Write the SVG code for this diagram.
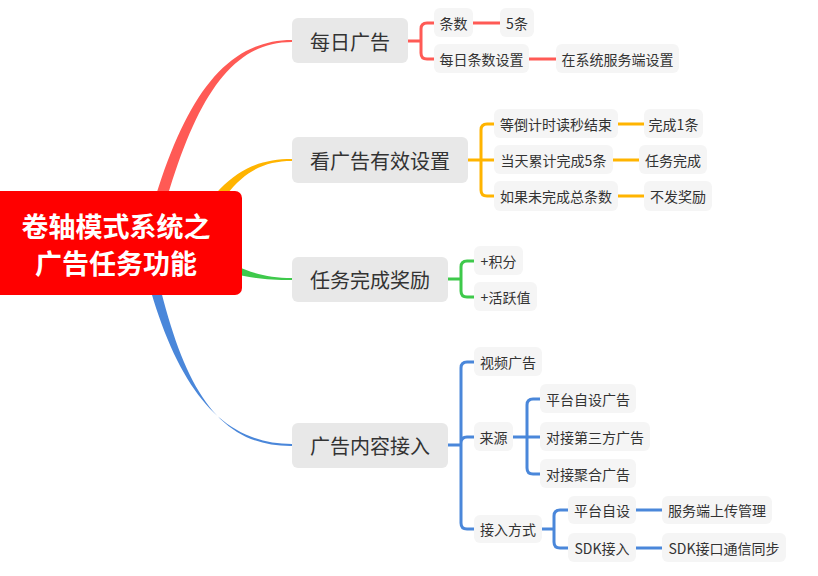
<svg xmlns="http://www.w3.org/2000/svg" width="818" height="576" viewBox="0 0 818 576">
<style>
text{font-family:"Noto Sans CJK SC","Noto Sans",sans-serif;dominant-baseline:central;text-anchor:middle;fill:#333}
.main rect{fill:#e8e8e8}
.main text{font-size:20px}
.sub rect{fill:#f5f5f5}
.sub text{font-size:14px}
.ln{fill:none;stroke-width:3;stroke-linejoin:round}
.r{stroke:#ff5a55}.o{stroke:#ffb400}.g{stroke:#3ec94b}.b{stroke:#4a87da}
</style>
<g id="connectors">
<path d="M138,262 C172,120 214,40 292,40 L292,42 C220,42 184,122 150,262 Z" fill="#ff5a55"/>
<path d="M185,238 C220,176 250,159 292,159 L292,161 C254,161 228,180 197,245 Z" fill="#ffb400"/>
<path d="M200,248 C238,268 258,278 292,278 L292,280 C256,280 236,276 198,262 Z" fill="#3ec94b"/>
<path d="M136,232 C166,372 212,444 292,444 L292,446 C210,447 176,374 148,232 Z" fill="#4a87da"/>
<path class="ln r" d="M408,41 H421 M434,23 H427 Q421,23 421,29 V53 Q421,59 427,59 H434 M473,23 H500 M529,59 H556"/>
<path class="ln o" d="M468,160 H481 M494,124 H487 Q481,124 481,130 V190 Q481,196 487,196 H494 M481,160 H494 M618,124 H644 M613,160 H639 M618,196 H644"/>
<path class="ln g" d="M448,279 H461 M474,261 H467 Q461,261 461,267 V291 Q461,297 467,297 H474"/>
<path class="ln b" d="M448,445 H461 M474,362 H467 Q461,362 461,368 V523 Q461,529 467,529 H474 M461,443 Q461,437 467,437 H474 M513,437 H540 M540,399 H533 Q527,399 527,405 V468 Q527,474 533,474 H540 M527,437 H540 M542,529 H554 M568,510 H560 Q554,510 554,516 V542 Q554,548 560,548 H568 M636,510 H662 M636,548 H662"/>
</g>
<g id="root">
<rect x="-6" y="191" width="248" height="104" rx="7" fill="#ff0000"/>
<text x="116" y="225" style="font-size:27px;font-weight:bold;fill:#fff">卷轴模式系统之</text>
<text x="116" y="262" style="font-size:27px;font-weight:bold;fill:#fff">广告任务功能</text>
</g>
<g id="n1" class="main"><rect x="292" y="18" width="116" height="45" rx="6"/><text x="350" y="41">每日广告</text></g>
<g id="n2" class="main"><rect x="292" y="137" width="176" height="46" rx="6"/><text x="380" y="160">看广告有效设置</text></g>
<g id="n3" class="main"><rect x="292" y="257" width="156" height="45" rx="6"/><text x="370" y="279">任务完成奖励</text></g>
<g id="n4" class="main"><rect x="292" y="423" width="156" height="45" rx="6"/><text x="370" y="445">广告内容接入</text></g>
<g id="n1a" class="sub"><rect x="434" y="8" width="39" height="29" rx="6"/><text x="453.5" y="22.5">条数</text></g>
<g id="n1a1" class="sub"><rect x="500" y="8" width="34" height="29" rx="6"/><text x="517" y="22.5">5条</text></g>
<g id="n1b" class="sub"><rect x="434" y="44" width="95" height="29" rx="6"/><text x="481.5" y="58.5">每日条数设置</text></g>
<g id="n1b1" class="sub"><rect x="556" y="44" width="123" height="29" rx="6"/><text x="617.5" y="58.5">在系统服务端设置</text></g>
<g id="n2a" class="sub"><rect x="494" y="109" width="124" height="29" rx="6"/><text x="556" y="123.5">等倒计时读秒结束</text></g>
<g id="n2a1" class="sub"><rect x="644" y="109" width="59" height="29" rx="6"/><text x="673.5" y="123.5">完成1条</text></g>
<g id="n2b" class="sub"><rect x="494" y="145" width="119" height="29" rx="6"/><text x="553.5" y="159.5">当天累计完成5条</text></g>
<g id="n2b1" class="sub"><rect x="639" y="145" width="68" height="29" rx="6"/><text x="673" y="159.5">任务完成</text></g>
<g id="n2c" class="sub"><rect x="494" y="181" width="124" height="30" rx="6"/><text x="556" y="196">如果未完成总条数</text></g>
<g id="n2c1" class="sub"><rect x="644" y="181" width="68" height="30" rx="6"/><text x="678" y="196">不发奖励</text></g>
<g id="n3a" class="sub"><rect x="474" y="246" width="49" height="29" rx="6"/><text x="498.5" y="260.5">+积分</text></g>
<g id="n3b" class="sub"><rect x="474" y="282" width="63" height="29" rx="6"/><text x="505.5" y="296.5">+活跃值</text></g>
<g id="n4a" class="sub"><rect x="474" y="347" width="68" height="29" rx="6"/><text x="508" y="361.5">视频广告</text></g>
<g id="n4b" class="sub"><rect x="474" y="422" width="39" height="29" rx="6"/><text x="493.5" y="436.5">来源</text></g>
<g id="n4b1" class="sub"><rect x="540" y="384" width="96" height="29" rx="6"/><text x="588" y="398.5">平台自设广告</text></g>
<g id="n4b2" class="sub"><rect x="540" y="422" width="110" height="29" rx="6"/><text x="595" y="436.5">对接第三方广告</text></g>
<g id="n4b3" class="sub"><rect x="540" y="459" width="96" height="29" rx="6"/><text x="588" y="473.5">对接聚合广告</text></g>
<g id="n4c" class="sub"><rect x="474" y="515" width="68" height="28" rx="6"/><text x="508" y="529">接入方式</text></g>
<g id="n4c1" class="sub"><rect x="568" y="496" width="68" height="28" rx="6"/><text x="602" y="510">平台自设</text></g>
<g id="n4c2" class="sub"><rect x="568" y="533" width="68" height="29" rx="6"/><text x="602" y="547.5">SDK接入</text></g>
<g id="n4c1a" class="sub"><rect x="662" y="496" width="110" height="28" rx="6"/><text x="717" y="510">服务端上传管理</text></g>
<g id="n4c2a" class="sub"><rect x="662" y="533" width="124" height="29" rx="6"/><text x="724" y="547.5">SDK接口通信同步</text></g>
</svg>
